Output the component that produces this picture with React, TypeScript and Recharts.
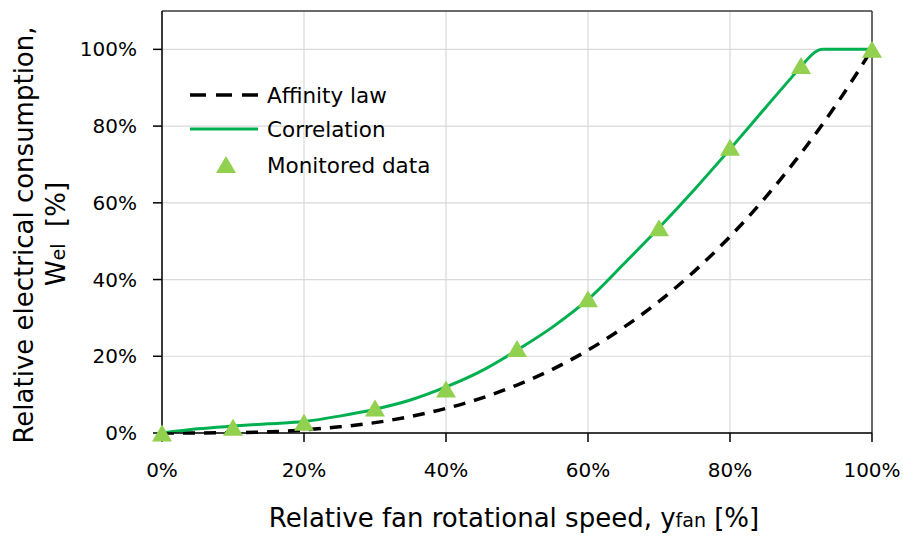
import React from 'react';
import {
  ComposedChart,
  Line,
  Scatter,
  XAxis,
  YAxis,
  CartesianGrid,
  ReferenceLine,
} from 'recharts';

// Relative fan rotational speed [%]
const affinitySpeed = [0, 5, 10, 15, 20, 25, 30, 35, 40, 45, 50, 55, 60, 65, 70, 75, 80, 85, 90, 95, 100];
// Affinity law (cubic) relative consumption [%]
const affinityValues = [0, 0.0, 0.1, 0.3, 0.8, 1.6, 2.7, 4.3, 6.4, 9.1, 12.5, 16.6, 21.6, 27.5, 34.3, 42.2, 51.2, 61.4, 72.9, 85.7, 100];

const corrSpeed = [0, 5, 10, 15, 20, 25, 30, 35, 40, 45, 50, 55, 60, 65, 70, 75, 80, 85, 90, 91, 92, 93, 100];
const corrValues = [0, 1.1, 1.8, 2.4, 3.0, 4.4, 6.2, 8.6, 12.0, 16.2, 21.6, 27.6, 34.8, 44.0, 53.5, 63.5, 74.0, 84.8, 95.5, 97.6, 99.3, 100, 100];

const monSpeed = [0, 10, 20, 30, 40, 50, 60, 70, 80, 90, 100];
const monValues = [0, 1.5, 2.8, 6.5, 11.5, 22.0, 35.0, 53.5, 74.5, 95.8, 100];

const xTicks = [0, 20, 40, 60, 80, 100];
const yTicks = [0, 20, 40, 60, 80, 100];

const legendLabels = ['Affinity law', 'Correlation', 'Monitored data'];

const affData = affinitySpeed.map((x, i) => ({ x, y: affinityValues[i] }));
const corrData = corrSpeed.map((x, i) => ({ x, y: corrValues[i] }));
const monData = monSpeed.map((x, i) => ({ x, y: monValues[i] }));

const FONT = '"DejaVu Sans", Verdana, sans-serif';
const GREEN = '#00b050';
const TRI = '#92d050';

const Triangle = (props: any) => {
  const { cx, cy } = props;
  if (cx == null || cy == null) return null;
  const w = 10;
  const h = 17;
  return (
    <polygon
      points={`${cx - w},${cy + h / 2} ${cx + w},${cy + h / 2} ${cx},${cy - h / 2}`}
      fill={TRI}
    />
  );
};

const LegendBox = () => (
  <svg
    width={280}
    height={110}
    style={{ position: 'absolute', left: 185, top: 75, overflow: 'visible', display: 'block' }}
  >
    <line x1={5} y1={20} x2={73} y2={20} stroke="#000" strokeWidth={3.5} strokeDasharray="16 10" />
    <text x={82} y={20} dominantBaseline="central" fontFamily={FONT} fontSize={21.5} fill="#000">
      {legendLabels[0]}
    </text>
    <line x1={5} y1={54} x2={73} y2={54} stroke={GREEN} strokeWidth={3} />
    <text x={82} y={54} dominantBaseline="central" fontFamily={FONT} fontSize={21.5} fill="#000">
      {legendLabels[1]}
    </text>
    <polygon points="31,98 51,98 41,81" fill={TRI} />
    <text x={82} y={90} dominantBaseline="central" fontFamily={FONT} fontSize={21.5} fill="#000">
      {legendLabels[2]}
    </text>
  </svg>
);

const XTitle = () => (
  <text x={514} y={527} textAnchor="middle" fontFamily={FONT} fontSize={26} fill="#000">
    Relative fan rotational speed, y<tspan fontSize={19}>fan</tspan> [%]
  </text>
);

const YTitle = () => (
  <g>
    <text
      transform="translate(33,235) rotate(-90)"
      textAnchor="middle"
      fontFamily={FONT}
      fontSize={26}
      fill="#000"
    >
      Relative electrical consumption,
    </text>
    <text
      transform="translate(65,234) rotate(-90)"
      textAnchor="middle"
      fontFamily={FONT}
      fontSize={26}
      fill="#000"
    >
      W<tspan fontSize={19}>el</tspan>{'\u00a0\u00a0'}[%]
    </text>
  </g>
);

export default function App() {
  return (
    <div style={{ position: 'absolute', left: 0, top: 0, width: 903, height: 536, background: '#fff' }}>
      <ComposedChart
        width={903}
        height={536}
        margin={{ top: 11, right: 31, bottom: 73, left: 102 }}
      >
        <CartesianGrid stroke="#d9d9d9" strokeWidth={1.2} />
        <XAxis
          type="number"
          dataKey="x"
          domain={[0, 100]}
          ticks={xTicks}
          tickFormatter={(v: number) => `${v}%`}
          height={30}
          tickSize={9}
          tickMargin={21}
          axisLine={{ stroke: '#000', strokeWidth: 1.5 }}
          tickLine={{ stroke: '#000', strokeWidth: 1.5 }}
          tick={{ fill: '#000', fontSize: 20, fontFamily: FONT }}
          label={<XTitle />}
        />
        <YAxis
          type="number"
          dataKey="y"
          domain={[0, 110]}
          ticks={yTicks}
          tickFormatter={(v: number) => `${v}%`}
          width={60}
          tickSize={9}
          tickMargin={16}
          axisLine={{ stroke: '#000', strokeWidth: 1.5 }}
          tickLine={{ stroke: '#000', strokeWidth: 1.5 }}
          tick={{ fill: '#000', fontSize: 20, fontFamily: FONT }}
          label={<YTitle />}
        />
        <ReferenceLine y={110} stroke="#404040" strokeWidth={1.5} />
        <ReferenceLine x={100} stroke="#404040" strokeWidth={1.5} />
        <Line
          data={affData}
          dataKey="y"
          type="monotone"
          stroke="#000"
          strokeWidth={3.5}
          strokeDasharray="12 9"
          dot={false}
          activeDot={false}
          isAnimationActive={false}
        />
        <Line
          data={corrData}
          dataKey="y"
          type="monotone"
          stroke={GREEN}
          strokeWidth={3}
          dot={false}
          activeDot={false}
          isAnimationActive={false}
        />
        <Scatter data={monData} dataKey="y" shape={<Triangle />} isAnimationActive={false} />
      </ComposedChart>
      <LegendBox />
    </div>
  );
}
